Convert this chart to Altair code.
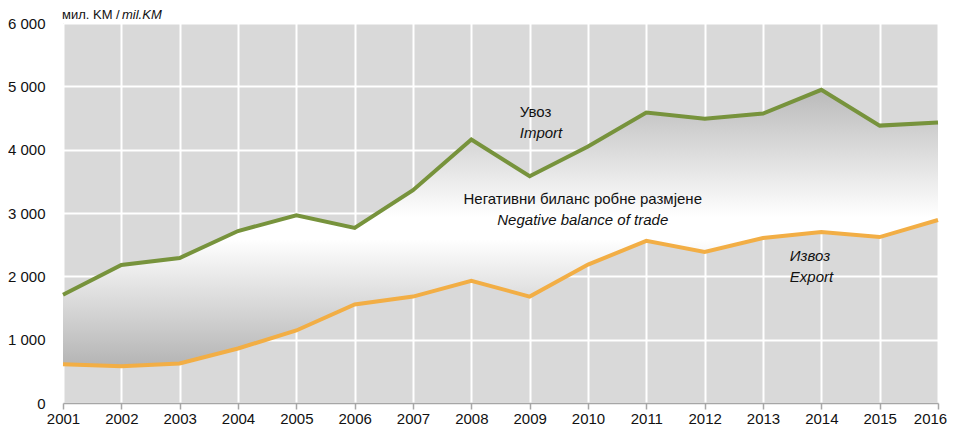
import altair as alt
import pandas as pd

years = list(range(2001, 2017))
imports = [1710, 2180, 2290, 2715, 2965, 2765, 3360, 4160, 3580, 4050, 4585, 4490, 4570, 4945, 4380, 4430]
exports = [610, 580, 625, 860, 1145, 1555, 1680, 1930, 1680, 2185, 2560, 2385, 2605, 2700, 2620, 2890]
y_ticks = [0, 1000, 2000, 3000, 4000, 5000, 6000]

unit_normal = "мил. KM /"
unit_italic = "mil.KM"

ann_text = ["Увоз", "Import", "Негативни биланс робне размјене", "Negative balance of trade", "Извоз", "Export"]
ann_x = [2008.83, 2008.83, 2009.91, 2009.91, 2013.46, 2013.46]
ann_y = [4595, 4265, 3220, 2890, 2320, 1990]
ann_style = ["normal", "italic", "normal", "italic", "italic", "italic"]
ann_align = ["left", "left", "center", "center", "left", "left"]

FONT = "Liberation Sans, Arial, sans-serif"

df = pd.DataFrame({"year": years, "imp": imports, "exp": exports})

x = alt.X("year:Q",
          scale=alt.Scale(domain=[2001, 2016], nice=False, zero=False),
          axis=alt.Axis(values=years, format="d", title=None, grid=True,
                        gridColor="white", gridWidth=2, labelFlush=False, labelOverlap=False,
                        tickColor="#a6a6a6", tickSize=6, tickWidth=1.5,
                        domainColor="#a6a6a6", domainWidth=1.5,
                        labelFontSize=15, labelFont=FONT, labelColor="#111111",
                        labelPadding=2,
                        labelOffset={"condition": {"test": "datum.value == 2016", "value": -8},
                                     "value": 0}))
y_axis = alt.Axis(values=y_ticks, title=None, grid=True, gridColor="white", gridWidth=2,
                  ticks=False, tickSize=0, domain=False, labelPadding=18,
                  labelFontSize=15, labelFont=FONT, labelColor="#111111",
                  labelExpr="replace(format(datum.value, ','), ',', ' ')")
yscale = alt.Scale(domain=[0, 6000], nice=False)

base = alt.Chart(df)

area = base.mark_area(
    color=alt.Gradient(
        gradient="linear", x1=0, x2=0, y1=0, y2=1,
        stops=[alt.GradientStop(color="#bababa", offset=0),
               alt.GradientStop(color="#ffffff", offset=0.46),
               alt.GradientStop(color="#ffffff", offset=0.54),
               alt.GradientStop(color="#b4b4b4", offset=1)]),
    opacity=1
).encode(x=x, y=alt.Y("imp:Q", scale=yscale, axis=y_axis), y2="exp:Q")

line_imp = base.mark_line(color="#77933c", strokeWidth=4).encode(
    x=x, y=alt.Y("imp:Q", scale=yscale, axis=y_axis))
line_exp = base.mark_line(color="#f2ae45", strokeWidth=4).encode(
    x=x, y=alt.Y("exp:Q", scale=yscale, axis=y_axis))

ann_df = pd.DataFrame({"t": ann_text, "x": ann_x, "y": ann_y, "s": ann_style, "a": ann_align})
layers = [area, line_imp, line_exp]
for i in range(len(ann_text)):
    layers.append(
        alt.Chart(ann_df.iloc[[i]]).mark_text(
            font=FONT, fontSize=15, fontStyle=ann_style[i], align=ann_align[i],
            baseline="middle", color="#111111"
        ).encode(x=alt.X("x:Q", scale=alt.Scale(domain=[2001, 2016], nice=False, zero=False)),
                 y=alt.Y("y:Q", scale=yscale), text="t:N")
    )

unit_df = pd.DataFrame({"t": [unit_normal, unit_italic]})
layers.append(alt.Chart(unit_df.iloc[[0]]).mark_text(
    font=FONT, fontSize=13, align="left", baseline="middle", color="#111111"
).encode(x=alt.value(-1), y=alt.value(-8), text="t:N"))
layers.append(alt.Chart(unit_df.iloc[[1]]).mark_text(
    font=FONT, fontSize=13, fontStyle="italic", align="left", baseline="middle", color="#111111"
).encode(x=alt.value(59), y=alt.value(-8), text="t:N"))

chart = alt.layer(*layers).properties(
    width=875, height=380,
    autosize=alt.AutoSizeParams(type="none"),
    padding={"left": 55, "top": 15, "right": 9, "bottom": 23},
    background="white"
).configure_view(fill="#d9d9d9", stroke=None)

chart.save("out.html", embed_options={"renderer": "svg", "actions": False})
